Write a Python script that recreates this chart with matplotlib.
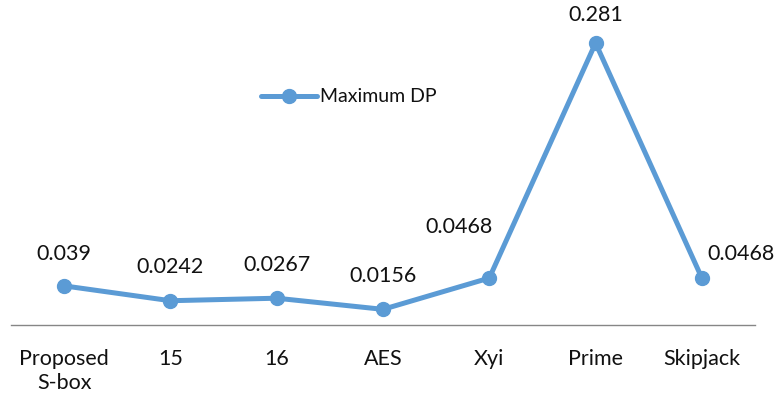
import matplotlib
matplotlib.use("Agg")
import matplotlib.pyplot as plt

# maximum differential probability per S-box
sboxes = ["Proposed\nS-box", "15", "16", "AES", "Xyi", "Prime", "Skipjack"]
max_dp = [0.039, 0.0242, 0.0267, 0.0156, 0.0468, 0.281, 0.0468]
dp_labels = ["0.039", "0.0242", "0.0267", "0.0156", "0.0468", "0.281", "0.0468"]
# label offsets (points) relative to each marker
label_dx = [0, 0, 0, 0, -22, 0, 28]
label_dy = [23, 24, 24, 24, 37, 20, 17]

plt.rcParams["font.family"] = ["Lato", "DejaVu Sans"]
blue = "#5B9BD5"
ink = "#111111"

fig = plt.figure(figsize=(7.8, 4.04), dpi=100)
# plot area: x from 11 to 755 px, y=0 at 325 px, y=0.3 at ~24 px
ax = fig.add_axes([11 / 780, 79 / 404, 744 / 780, 301 / 404])

x = range(len(sboxes))
ax.plot(x, max_dp, color=blue, lw=3.6, marker="o", ms=10,
        solid_capstyle="round", label="Maximum DP")

for i, (v, t) in enumerate(zip(max_dp, dp_labels)):
    ax.annotate(t, (i, v), xytext=(label_dx[i], label_dy[i]),
                textcoords="offset points", ha="center", va="center",
                fontsize=15.5, color=ink)

ax.set_xlim(-0.5, len(sboxes) - 0.5)
ax.set_ylim(0, 0.3)
ax.set_xticks(list(x))
ax.set_xticklabels(sboxes, fontsize=15.5, color=ink, linespacing=1.25)
ax.tick_params(axis="x", length=0, pad=17)
ax.set_yticks([])
for side in ("top", "left", "right"):
    ax.spines[side].set_visible(False)
ax.spines["bottom"].set_color("#868686")
ax.spines["bottom"].set_linewidth(1.0)

ax.legend(loc="center left", bbox_to_anchor=(261 / 780, 1 - 97 / 404),
          bbox_transform=fig.transFigure, frameon=False, fontsize=14,
          numpoints=1, handlelength=2.9, handletextpad=0.15,
          borderpad=0, borderaxespad=0, labelcolor=ink)

fig.savefig("out.png", dpi=100)
